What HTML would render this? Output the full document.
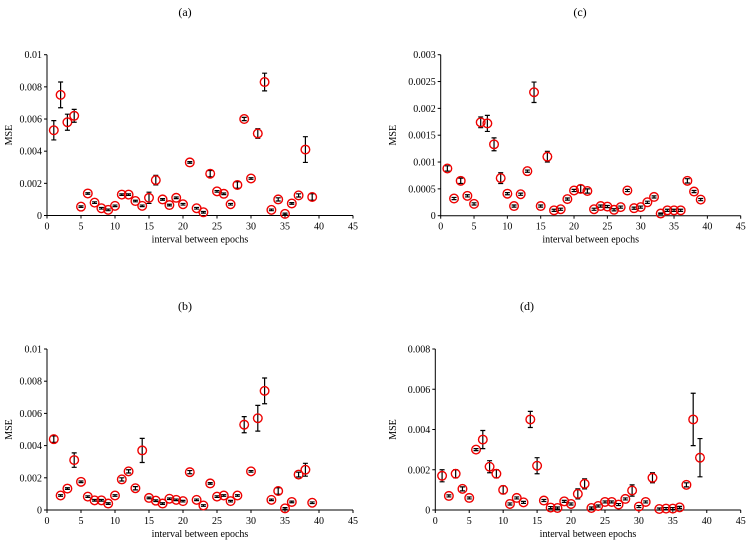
<!DOCTYPE html>
<html><head><meta charset="utf-8"><style>
body{margin:0;background:#fff;}
svg{display:block;font-family:"Liberation Serif",serif;}
</style></head><body>
<svg id="fig" width="748" height="548" viewBox="0 0 748 548" xmlns="http://www.w3.org/2000/svg"></svg>
<script>
const xs=[...Array(39)].map((_,i)=>i+1);
const aVals=[.0053,.0075,.0058,.0062,.00055,.00137,.0008,.00045,.00035,.0006,.0013,.0013,.0009,.0006,.0011,.0022,.001,.00065,.0011,.0007,.0033,.00045,.0002,.0026,.0015,.00135,.0007,.0019,.006,.0023,.0051,.0083,.00035,.001,.0001,.00075,.00125,.0041,.00115];
const aErr=[.0006,.0008,.0005,.0004,.00005,.00005,.00005,.00005,.00005,.00005,.00005,.00005,.00005,.00005,.00035,.0003,.00005,.00005,.00005,.00005,.00005,.00005,.00005,.0002,.00005,.00005,.00005,.0002,.0001,.00005,.0003,.00055,.00005,.0001,.00005,.00005,.0001,.0008,.0002];
const cVals=[.00088,.00032,.00065,.00037,.00022,.00174,.00172,.00133,.0007,.00041,.00018,.0004,.00083,.0023,.00018,.0011,.0001,.00012,.00031,.00047,.0005,.00046,.00012,.00018,.00017,.00011,.00016,.00047,.00014,.00016,.00025,.00035,.00004,.0001,.0001,.0001,.00065,.00045,.0003];
const cErr=[.00005,.00002,.00005,.00002,.00002,.0001,.00015,.00012,.0001,.00002,.00002,.00002,.00002,.00019,.00002,.0001,.00002,.00002,.00002,.00002,.00007,.00004,.00002,.00002,.00002,.00002,.00002,.00002,.00002,.00002,.00002,.00002,.00001,.00002,.00002,.00002,.00004,.00002,.00002];
const bVals=[.0044,.0009,.00133,.0031,.00175,.00083,.0006,.0006,.0004,.0009,.0019,.0024,.00135,.0037,.00075,.00058,.0004,.0007,.00063,.00055,.00235,.00063,.00028,.00165,.00083,.0009,.00055,.0009,.0053,.0024,.0057,.0074,.00063,.00118,.0001,.0005,.0022,.0025,.00045];
const bErr=[.0002,.00005,.00005,.00045,.00005,.00005,.00005,.00005,.00005,.00005,.0001,.0001,.0001,.00075,.00005,.00005,.00005,.00005,.00005,.00005,.0001,.00005,.00005,.00005,.00005,.00005,.00005,.00005,.0005,.00005,.0008,.0008,.00005,.0002,.00005,.00005,.00015,.0004,.00005];
const dVals=[.0017,.0007,.0018,.00105,.0006,.003,.0035,.00215,.0018,.001,.0003,.0006,.00038,.0045,.0022,.00047,.00012,.0001,.00043,.0003,.0008,.0013,.0001,.0002,.0004,.0004,.00027,.00055,.00097,.00017,.0004,.0016,.00005,.00007,.00007,.00013,.00125,.0045,.0026];
const dErr=[.0003,.00005,.0002,.0001,.00005,.00005,.00045,.0003,.0002,.0002,.00005,.00005,.00005,.0004,.0004,.00005,.00005,.00005,.00005,.00005,.00025,.00025,.00005,.00005,.00005,.00005,.00005,.00005,.00028,.00005,.00005,.00025,.00005,.00005,.00005,.00005,.0001,.0013,.00095];
const xTicks=[0,5,10,15,20,25,30,35,40,45];
const aTicks=["0","0.002","0.004","0.006","0.008","0.01"];
const cTicks=["0","0.0005","0.001","0.0015","0.002","0.0025","0.003"];
const dTicks=["0","0.002","0.004","0.006","0.008"];
const NS="http://www.w3.org/2000/svg";
const svg=document.getElementById('fig');
function mk(tag,attrs,parent,text){const e=document.createElementNS(NS,tag);for(const k in attrs)e.setAttribute(k,attrs[k]);if(text!==undefined)e.textContent=text;(parent||svg).appendChild(e);return e;}
function panel(id,title,tx,ty,x0,x1,y0,y1,ymax,ticks,vals,errs,mseX){
  const g=mk('g',{});
  
  
  const sx=v=>x0+(x1-x0)*v/45, sy=v=>y0-(y0-y1)*v/ymax;
  const t=mk('text',{x:tx,y:ty,'font-size':12,'text-anchor':'middle'},g,title);
  
  
  const ax=mk('path',{d:`M${x0},${y1}V${y0}H${x1}`,stroke:'#000','stroke-width':1,fill:'none'},g);
  
  
  xTicks.forEach(v=>{const X=sx(v);mk('line',{x1:X,x2:X,y1:y0,y2:y0+3,stroke:'#000'},g);
    const l=mk('text',{x:X,y:y0+14,'font-size':10,'text-anchor':'middle'},g,String(v));
    
    });
  ticks.forEach((s,i)=>{const v=ymax*i/(ticks.length-1),Y=sy(v);mk('line',{x1:x0-3,x2:x0,y1:Y,y2:Y,stroke:'#000'},g);
    const l=mk('text',{x:x0-5,y:Y+3.5,'font-size':10,'text-anchor':'end'},g,s);
    
    });
  const xt=mk('text',{x:(x0+x1)/2,y:y0+27,'font-size':10,'text-anchor':'middle'},g,'interval between epochs');
  
  
  const ym=(y0+y1)/2;
  const yt=mk('text',{x:mseX,y:ym,'font-size':10,'text-anchor':'middle',transform:`rotate(-90 ${mseX} ${ym})`},g,'MSE');
  
  
  xs.forEach((x,i)=>{const X=sx(x),Y=sy(vals[i]),e=errs[i];
    const eg=mk('path',{d:`M${X},${sy(vals[i]+e)}V${sy(Math.max(0,vals[i]-e))}M${X-2.5},${sy(vals[i]+e)}h5M${X-2.5},${sy(Math.max(0,vals[i]-e))}h5`,stroke:'#000','stroke-width':1.2,fill:'none'},g);
    
    
    const c=mk('circle',{cx:X,cy:Y,r:4.3,fill:'none',stroke:'#e00','stroke-width':1.4},g);
    
    });
}
panel('a','(a)',185,16,47,353,215.5,54.7,0.01,aTicks,aVals,aErr,12);
panel('c','(c)',580,16,440.7,740.7,215.7,54.7,0.003,cTicks,cVals,cErr,396);
panel('b','(b)',185,310,47,353,510,349,0.01,aTicks,bVals,bErr,12);
panel('d','(d)',527,310,435.3,740.7,510,349,0.008,dTicks,dVals,dErr,396);
</script>
</body></html>
